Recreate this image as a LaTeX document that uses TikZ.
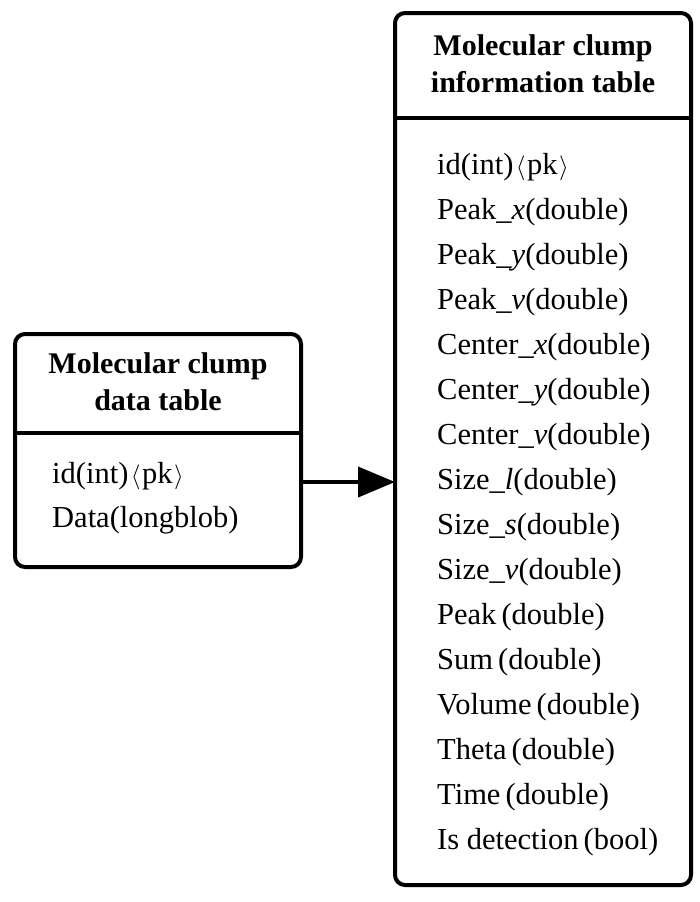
\documentclass[tikz,border=0pt]{standalone}
\usepackage{fontspec}
\setmainfont{Liberation Serif}
\usetikzlibrary{arrows.meta}
\newcommand{\lang}{\hspace{0.08em}\ensuremath{\langle}\hspace{0.05em}}
\newcommand{\rang}{\hspace{0.05em}\ensuremath{\rangle}}
\tikzset{
  tbl/.style={draw, line width=4pt, rounded corners=10pt, inner sep=0pt, outer sep=0pt},
  divider/.style={line width=4pt},
  ttl/.style={font=\fontsize{30}{37}\selectfont\bfseries, anchor=base, inner sep=0pt},
  field/.style={font=\fontsize{30.5}{37}\selectfont, anchor=base west, inner sep=0pt},
  conn/.style={line width=4pt, -{Triangle[length=37pt,width=30pt]}}
}
\begin{document}
\begin{tikzpicture}[x=1pt,y=-1pt]
\useasboundingbox (0,0) rectangle (700,902);
% left table
\node[tbl, minimum width=286pt, minimum height=233pt] (L) at (158,450.5) {};
\draw[divider] (L.west |- 0,433) -- (L.east |- 0,433);
\node[ttl] (Lt1) at (158,373) {Molecular clump};
\node[ttl] (Lt2) at (158,410) {data table};
\node[field] (Lf1) at (52,483) {id(int)\lang pk\rang};
\node[field] (Lf2) at (52,527) {Data(longblob)};
% right table
\node[tbl, minimum width=296pt, minimum height=872pt] (R) at (543,449) {};
\draw[divider] (R.west |- 0,118) -- (R.east |- 0,118);
\node[ttl] (Rt1) at (543,55) {Molecular clump};
\node[ttl] (Rt2) at (543,92) {information table};
\foreach \t [count=\i] in {
  id(int)\lang pk\rang,
  Peak\_\textit{x}(double),
  Peak\_\textit{y}(double),
  Peak\_\textit{v}(double),
  Center\_\textit{x}(double),
  Center\_\textit{y}(double),
  Center\_\textit{v}(double),
  Size\_\textit{l}(double),
  Size\_\textit{s}(double),
  Size\_\textit{v}(double),
  Peak\,(double),
  Sum\,(double),
  Volume\,(double),
  Theta\,(double),
  Time\,(double),
  Is detection\,(bool)}
  \node[field] (Rf\i) at (437,129+45*\i) {\t};
% connector
\coordinate (ay) at (0,482);
\draw[conn] (L.east |- ay) -- (R.west |- ay);
\end{tikzpicture}
\end{document}
